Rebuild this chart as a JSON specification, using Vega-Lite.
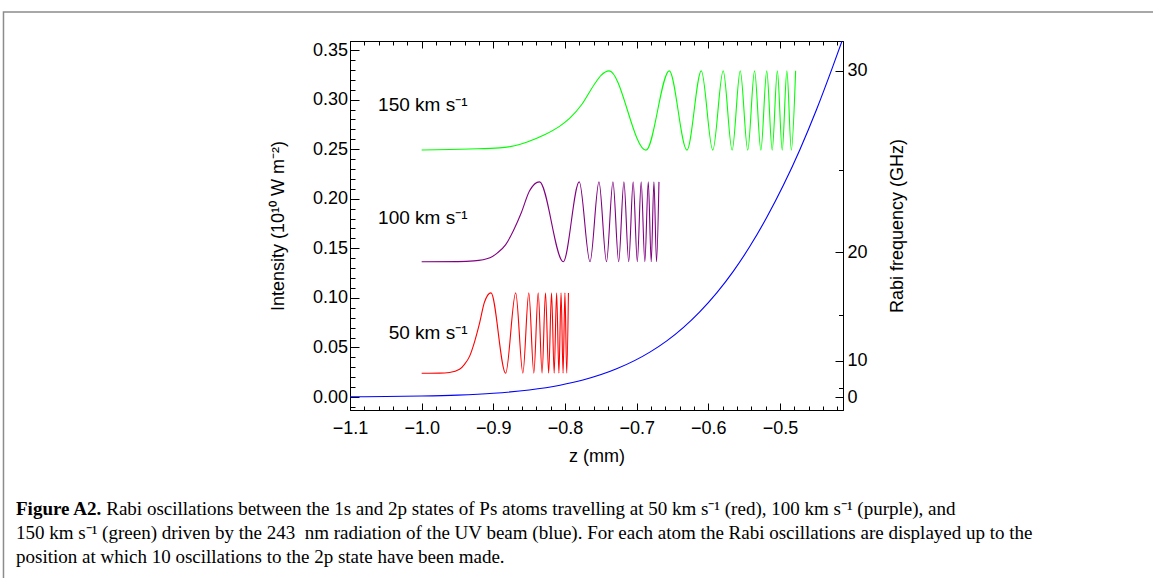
{
  "$schema": "https://vega.github.io/schema/vega-lite/v6.json",
  "width": 493,
  "height": 369,
  "autosize": {"type": "none"},
  "padding": {"left": 350, "top": 41, "right": 310, "bottom": 168},
  "background": "white",
  "datasets": {
    "curves": [
      {"s": "beam", "z": -1.1, "I": 0.0002},
      {"s": "beam", "z": -1.05, "I": 0.00046},
      {"s": "beam", "z": -1.0, "I": 0.00097},
      {"s": "beam", "z": -0.95, "I": 0.00195},
      {"s": "beam", "z": -0.9, "I": 0.0038},
      {"s": "beam", "z": -0.85, "I": 0.00713},
      {"s": "beam", "z": -0.807, "I": 0.0119},
      {"s": "beam", "z": -0.775, "I": 0.0171},
      {"s": "beam", "z": -0.728, "I": 0.0284},
      {"s": "beam", "z": -0.681, "I": 0.0455},
      {"s": "beam", "z": -0.658, "I": 0.0566},
      {"s": "beam", "z": -0.635, "I": 0.07},
      {"s": "beam", "z": -0.612, "I": 0.0859},
      {"s": "beam", "z": -0.588, "I": 0.1053},
      {"s": "beam", "z": -0.565, "I": 0.127},
      {"s": "beam", "z": -0.542, "I": 0.152},
      {"s": "beam", "z": -0.519, "I": 0.1805},
      {"s": "beam", "z": -0.495, "I": 0.214},
      {"s": "beam", "z": -0.472, "I": 0.25},
      {"s": "beam", "z": -0.449, "I": 0.29},
      {"s": "beam", "z": -0.426, "I": 0.334},
      {"s": "beam", "z": -0.412, "I": 0.362},

      {"s": "v50", "z": -1.0, "I": 0.024},
      {"s": "v50", "z": -0.9751, "I": 0.0241},
      {"s": "v50", "z": -0.9612, "I": 0.0248},
      {"s": "v50", "z": -0.9472, "I": 0.028},
      {"s": "v50", "z": -0.9402, "I": 0.033},
      {"s": "v50", "z": -0.9332, "I": 0.041},
      {"s": "v50", "z": -0.9262, "I": 0.0557},
      {"s": "v50", "z": -0.9193, "I": 0.0742},
      {"s": "v50", "z": -0.9123, "I": 0.0958},
      {"s": "v50", "z": -0.9033, "I": 0.105},
      {"s": "v50", "z": -0.8828, "I": 0.024},
      {"s": "v50", "z": -0.8688, "I": 0.105},
      {"s": "v50", "z": -0.8588, "I": 0.024},
      {"s": "v50", "z": -0.8505, "I": 0.105},
      {"s": "v50", "z": -0.8435, "I": 0.024},
      {"s": "v50", "z": -0.8374, "I": 0.105},
      {"s": "v50", "z": -0.832, "I": 0.024},
      {"s": "v50", "z": -0.8272, "I": 0.105},
      {"s": "v50", "z": -0.8228, "I": 0.024},
      {"s": "v50", "z": -0.8188, "I": 0.105},
      {"s": "v50", "z": -0.8151, "I": 0.024},
      {"s": "v50", "z": -0.8117, "I": 0.105},
      {"s": "v50", "z": -0.8085, "I": 0.024},
      {"s": "v50", "z": -0.8055, "I": 0.105},
      {"s": "v50", "z": -0.8027, "I": 0.024},
      {"s": "v50", "z": -0.8001, "I": 0.105},
      {"s": "v50", "z": -0.7976, "I": 0.024},
      {"s": "v50", "z": -0.7952, "I": 0.105},

      {"s": "v100", "z": -1.0, "I": 0.1365},
      {"s": "v100", "z": -0.9493, "I": 0.1366},
      {"s": "v100", "z": -0.927, "I": 0.1373},
      {"s": "v100", "z": -0.9047, "I": 0.1405},
      {"s": "v100", "z": -0.8942, "I": 0.1454},
      {"s": "v100", "z": -0.883, "I": 0.1534},
      {"s": "v100", "z": -0.8719, "I": 0.168},
      {"s": "v100", "z": -0.8607, "I": 0.1864},
      {"s": "v100", "z": -0.8496, "I": 0.2078},
      {"s": "v100", "z": -0.8356, "I": 0.217},
      {"s": "v100", "z": -0.8024, "I": 0.1365},
      {"s": "v100", "z": -0.7801, "I": 0.217},
      {"s": "v100", "z": -0.7651, "I": 0.1365},
      {"s": "v100", "z": -0.7526, "I": 0.217},
      {"s": "v100", "z": -0.7421, "I": 0.1365},
      {"s": "v100", "z": -0.7331, "I": 0.217},
      {"s": "v100", "z": -0.7251, "I": 0.1365},
      {"s": "v100", "z": -0.7178, "I": 0.217},
      {"s": "v100", "z": -0.7111, "I": 0.1365},
      {"s": "v100", "z": -0.7049, "I": 0.217},
      {"s": "v100", "z": -0.6991, "I": 0.1365},
      {"s": "v100", "z": -0.6937, "I": 0.217},
      {"s": "v100", "z": -0.6886, "I": 0.1365},
      {"s": "v100", "z": -0.6838, "I": 0.217},
      {"s": "v100", "z": -0.6797, "I": 0.1365},
      {"s": "v100", "z": -0.6759, "I": 0.217},
      {"s": "v100", "z": -0.6723, "I": 0.1365},
      {"s": "v100", "z": -0.6689, "I": 0.217},

      {"s": "v150", "z": -1.0, "I": 0.2492},
      {"s": "v150", "z": -0.9333, "I": 0.2502},
      {"s": "v150", "z": -0.8914, "I": 0.2513},
      {"s": "v150", "z": -0.8705, "I": 0.2534},
      {"s": "v150", "z": -0.8537, "I": 0.257},
      {"s": "v150", "z": -0.8286, "I": 0.2645},
      {"s": "v150", "z": -0.8077, "I": 0.273},
      {"s": "v150", "z": -0.7937, "I": 0.281},
      {"s": "v150", "z": -0.7766, "I": 0.295},
      {"s": "v150", "z": -0.7594, "I": 0.315},
      {"s": "v150", "z": -0.7497, "I": 0.3245},
      {"s": "v150", "z": -0.7385, "I": 0.329},
      {"s": "v150", "z": -0.687, "I": 0.249},
      {"s": "v150", "z": -0.6545, "I": 0.329},
      {"s": "v150", "z": -0.6298, "I": 0.249},
      {"s": "v150", "z": -0.6098, "I": 0.329},
      {"s": "v150", "z": -0.5938, "I": 0.249},
      {"s": "v150", "z": -0.5793, "I": 0.329},
      {"s": "v150", "z": -0.5668, "I": 0.249},
      {"s": "v150", "z": -0.5555, "I": 0.329},
      {"s": "v150", "z": -0.545, "I": 0.249},
      {"s": "v150", "z": -0.5355, "I": 0.329},
      {"s": "v150", "z": -0.5267, "I": 0.249},
      {"s": "v150", "z": -0.5185, "I": 0.329},
      {"s": "v150", "z": -0.5109, "I": 0.249},
      {"s": "v150", "z": -0.5037, "I": 0.329},
      {"s": "v150", "z": -0.4969, "I": 0.249},
      {"s": "v150", "z": -0.4904, "I": 0.329},
      {"s": "v150", "z": -0.4842, "I": 0.249},
      {"s": "v150", "z": -0.4782, "I": 0.329}
    ],
    "labels": [
      {"t": "150 km s⁻¹", "z": -0.936, "I": 0.295},
      {"t": "100 km s⁻¹", "z": -0.936, "I": 0.181},
      {"t": "50 km s⁻¹", "z": -0.936, "I": 0.065}
    ],
    "frame": [{"k": "box"}]
  },
  "title": {
    "text": "Figure A2.",
    "subtitle": [
      "\u200b\u00a0\u00a0\u00a0\u00a0\u00a0\u00a0\u00a0\u00a0\u00a0\u00a0\u00a0\u00a0\u00a0\u00a0\u00a0\u00a0\u00a0\u00a0\u00a0Rabi oscillations between the 1s and 2p states of Ps atoms travelling at 50 km s⁻¹ (red), 100 km s⁻¹ (purple), and",
      "150 km s⁻¹ (green) driven by the 243\u00a0\u00a0nm radiation of the UV beam (blue). For each atom the Rabi oscillations are displayed up to the",
      "position at which 10 oscillations to the 2p state have been made."
    ],
    "orient": "top",
    "anchor": "start",
    "frame": "group",
    "offset": 0,
    "dx": -334,
    "dy": 556,
    "baseline": "top",
    "font": "Liberation Serif",
    "fontSize": 19,
    "fontWeight": "bold",
    "color": "black",
    "subtitleFont": "Liberation Serif",
    "subtitleFontSize": 19,
    "subtitleFontWeight": "normal",
    "subtitleColor": "black",
    "subtitlePadding": -19,
    "subtitleLineHeight": 24
  },
  "layer": [
    {
      "layer": [
        {
          "data": {"name": "curves"},
          "mark": {"type": "line", "interpolate": "monotone", "strokeWidth": 1.1, "clip": true},
          "encoding": {
            "x": {
              "field": "z", "type": "quantitative",
              "scale": {"domain": [-1.1, -0.4121], "nice": false, "zero": false},
              "axis": {
                "title": "z (mm)",
                "tickCount": 200,
                "values": [-1.1, -1.08, -1.06, -1.04, -1.02, -1.0, -0.98, -0.96, -0.94, -0.92, -0.9, -0.88, -0.86, -0.84, -0.82, -0.8, -0.78, -0.76, -0.74, -0.72, -0.7, -0.68, -0.66, -0.64, -0.62, -0.6, -0.58, -0.56, -0.54, -0.52, -0.5, -0.48, -0.46, -0.44, -0.42],
                "labelExpr": "abs(round(datum.value*50)) % 5 == 0 ? format(datum.value, '.1f') : ''",
                "tickSize": {"condition": {"test": "abs(round(datum.value*50)) % 5 == 0", "value": -7}, "value": -4},
                "labelOverlap": false,
                "labelFlush": false,
                "labelPadding": 16,
                "titlePadding": 7
              }
            },
            "y": {
              "field": "I", "type": "quantitative",
              "scale": {"domain": [-0.0131, 0.3591], "nice": false, "zero": false},
              "axis": {
                "title": "Intensity (10¹⁰ W m⁻²)",
                "tickCount": 200,
                "values": [-0.01, 0.0, 0.01, 0.02, 0.03, 0.04, 0.05, 0.06, 0.07, 0.08, 0.09, 0.1, 0.11, 0.12, 0.13, 0.14, 0.15, 0.16, 0.17, 0.18, 0.19, 0.2, 0.21, 0.22, 0.23, 0.24, 0.25, 0.26, 0.27, 0.28, 0.29, 0.3, 0.31, 0.32, 0.33, 0.34, 0.35],
                "labelExpr": "abs(round(datum.value*100)) % 5 == 0 ? format(datum.value, '.2f') : ''",
                "tickSize": {"condition": {"test": "abs(round(datum.value*100)) % 5 == 0", "value": -9}, "value": -5},
                "labelOverlap": false,
                "labelFlush": false,
                "labelPadding": 11.5,
                "titlePadding": 24.5
              }
            },
            "color": {
              "field": "s", "type": "nominal",
              "scale": {"domain": ["beam", "v50", "v100", "v150"], "range": ["#0000ff", "#ff0000", "#800080", "#00ff00"]},
              "legend": null
            }
          }
        },
        {
          "data": {"name": "labels"},
          "mark": {"type": "text", "align": "right", "baseline": "middle", "font": "Liberation Sans", "fontSize": 19, "color": "black"},
          "encoding": {
            "x": {"field": "z", "type": "quantitative"},
            "y": {"field": "I", "type": "quantitative"},
            "text": {"field": "t"}
          }
        }
      ]
    },
    {
      "data": {"name": "frame"},
      "mark": {"type": "rect", "filled": false, "stroke": "#8c8c8c", "strokeWidth": 1.5, "clip": false},
      "encoding": {
        "x": {
          "datum": -1.5835, "type": "quantitative",
          "scale": {"domain": [-1.1, -0.4121], "nice": false, "zero": false},
          "axis": {
            "orient": "top",
            "title": null,
            "labels": false,
            "tickCount": 200,
            "values": [-1.1, -1.08, -1.06, -1.04, -1.02, -1.0, -0.98, -0.96, -0.94, -0.92, -0.9, -0.88, -0.86, -0.84, -0.82, -0.8, -0.78, -0.76, -0.74, -0.72, -0.7, -0.68, -0.66, -0.64, -0.62, -0.6, -0.58, -0.56, -0.54, -0.52, -0.5, -0.48, -0.46, -0.44, -0.42],
            "tickSize": {"condition": {"test": "abs(round(datum.value*50)) % 5 == 0", "value": -7}, "value": -4}
          }
        },
        "x2": {"datum": 0.5},
        "y": {
          "datum": 0.3884, "type": "quantitative",
          "scale": {"domain": [-0.0131, 0.3591], "nice": false, "zero": false},
          "axis": {
            "orient": "right",
            "title": "Rabi frequency (GHz)",
            "titleAngle": 270,
            "tickCount": 200,
            "values": [0, 0.00914, 0.0366, 0.0823, 0.1462, 0.2285, 0.329],
            "labelExpr": "datum.value == 0 ? '0' : datum.value == 0.0366 ? '10' : datum.value == 0.1462 ? '20' : datum.value == 0.329 ? '30' : ''",
            "tickSize": {"condition": {"test": "datum.value == 0 || datum.value == 0.0366 || datum.value == 0.1462 || datum.value == 0.329", "value": -8}, "value": -4.5},
            "labelOverlap": false,
            "labelPadding": 12,
            "titlePadding": 39
          }
        },
        "y2": {"datum": -0.5}
      }
    }
  ],
  "resolve": {"scale": {"x": "independent", "y": "independent"}},
  "config": {
    "font": "Liberation Sans",
    "view": {"stroke": "black", "strokeWidth": 1},
    "axis": {
      "labelFont": "Liberation Sans",
      "labelFontSize": 18,
      "labelColor": "black",
      "titleFont": "Liberation Sans",
      "titleFontSize": 18,
      "titleFontWeight": "normal",
      "titleColor": "black",
      "tickColor": "black",
      "domainColor": "black",
      "grid": false,
      "labelOverlap": false,
      "labelFlush": false,
      "labelBound": false
    }
  }
}
